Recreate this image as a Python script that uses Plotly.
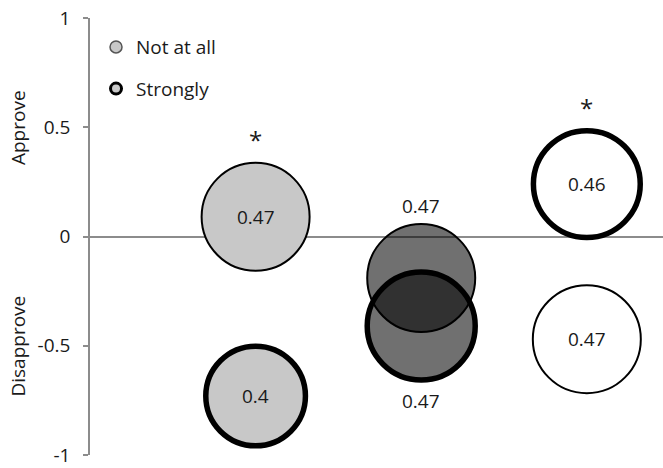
import math
import plotly.graph_objects as go

# ---- data ----
categories = [1, 2, 3]
not_at_all_y = [0.09, -0.19, -0.47]
not_at_all_size = [0.47, 0.47, 0.47]
strongly_y = [-0.73, -0.41, 0.24]
strongly_size = [0.40, 0.47, 0.46]
significance = ["*", "", "*"]
# label placement per category: 0 = inside bubble, 1 = above, -1 = below
not_at_all_label_pos = [0, 1, 0]
strongly_label_pos = [0, -1, 0]
y_ticks = [-1, -0.5, 0, 0.5, 1]
y_tick_labels = ["-1", "-0.5", "0", "0.5", "1"]

# ---- style ----
FONT = "Open Sans"
FS = 19
TXT = "#1a1a1a"
cat_colors = ["#c8c8c8", "rgba(0,0,0,0.56)", "#ffffff"]
MAX_DIAM = 108
SIZEREF = 2.0 * max(not_at_all_size + strongly_size) / MAX_DIAM ** 2


def diam(v):
    return math.sqrt(2.0 * v / SIZEREF)


fig = go.Figure()

fig.add_trace(go.Scatter(
    x=categories, y=not_at_all_y, mode="markers",
    marker=dict(size=not_at_all_size, sizemode="area", sizeref=SIZEREF,
                color=cat_colors, line=dict(color="black", width=2), opacity=1),
    showlegend=False, hoverinfo="skip", cliponaxis=False,
))
fig.add_trace(go.Scatter(
    x=categories, y=strongly_y, mode="markers",
    marker=dict(size=strongly_size, sizemode="area", sizeref=SIZEREF,
                color=cat_colors, line=dict(color="black", width=5.5), opacity=1),
    showlegend=False, hoverinfo="skip", cliponaxis=False,
))

# legend entries
fig.add_trace(go.Scatter(
    x=[None], y=[None], mode="markers", name="Not at all", legendgroup="a",
    marker=dict(size=12, color=cat_colors[0], line=dict(color="#555555", width=1.5)),
))
fig.add_trace(go.Scatter(
    x=[None], y=[None], mode="markers", name="Strongly", legendgroup="b",
    marker=dict(size=11, color=cat_colors[0], line=dict(color="black", width=3)),
))

annotations = []
# data labels (bubble sizes)
for ys, sizes, poss in [(not_at_all_y, not_at_all_size, not_at_all_label_pos),
                        (strongly_y, strongly_size, strongly_label_pos)]:
    for c, y, s, p in zip(categories, ys, sizes, poss):
        if p == 0:
            shift = 0
        elif p > 0:
            shift = diam(s) / 2 + 18
        else:
            shift = -(diam(s) / 2 + 21)
        annotations.append(dict(x=c, y=y, xref="x", yref="y", text=str(s), showarrow=False,
                                xanchor="center", yanchor="middle", yshift=shift,
                                font=dict(family=FONT, size=FS, color=TXT)))

# significance markers
for c, s, y1, y2, s1, s2 in zip(categories, significance, not_at_all_y, strongly_y,
                                not_at_all_size, strongly_size):
    if not s:
        continue
    if y1 >= y2:
        ytop, d = y1, diam(s1)
    else:
        ytop, d = y2, diam(s2)
    annotations.append(dict(x=c, y=ytop, xref="x", yref="y", text=s, showarrow=False,
                            xanchor="center", yanchor="middle",
                            yshift=d / 2 + 23, font=dict(family=FONT, size=24, color=TXT)))

annotations.append(dict(x=-0.126, y=0.5, xref="paper", yref="y", text="Approve",
                        textangle=-90, showarrow=False, xanchor="center", yanchor="middle",
                        font=dict(family=FONT, size=FS, color=TXT)))
annotations.append(dict(x=-0.126, y=-0.5, xref="paper", yref="y", text="Disapprove",
                        textangle=-90, showarrow=False, xanchor="center", yanchor="middle",
                        font=dict(family=FONT, size=FS, color=TXT)))

fig.update_layout(
    width=663, height=468,
    margin=dict(l=90, r=0, t=18, b=10),
    paper_bgcolor="white", plot_bgcolor="white",
    font=dict(family=FONT, size=FS, color=TXT),
    xaxis=dict(range=[0, 3.46], visible=False, fixedrange=True),
    yaxis=dict(range=[-1, 1], tickvals=y_ticks, ticktext=y_tick_labels,
               showgrid=False, zeroline=True, zerolinecolor="#8c8c8c", zerolinewidth=1.5,
               showline=True, linecolor="#8c8c8c", linewidth=1.5,
               ticks="outside", ticklen=5, tickcolor="#8c8c8c", tickwidth=1.5,
               ticklabelstandoff=9, ticklabeloverflow="allow",
               tickfont=dict(family=FONT, size=FS, color=TXT)),
    legend=dict(x=0.0105, y=0.977, xanchor="left", yanchor="top",
                bgcolor="rgba(0,0,0,0)", tracegroupgap=14,
                font=dict(family=FONT, size=FS, color=TXT)),
    annotations=annotations,
)

fig.write_html("out.html", config={"displayModeBar": False},
               post_script="document.body.style.margin='0';")
